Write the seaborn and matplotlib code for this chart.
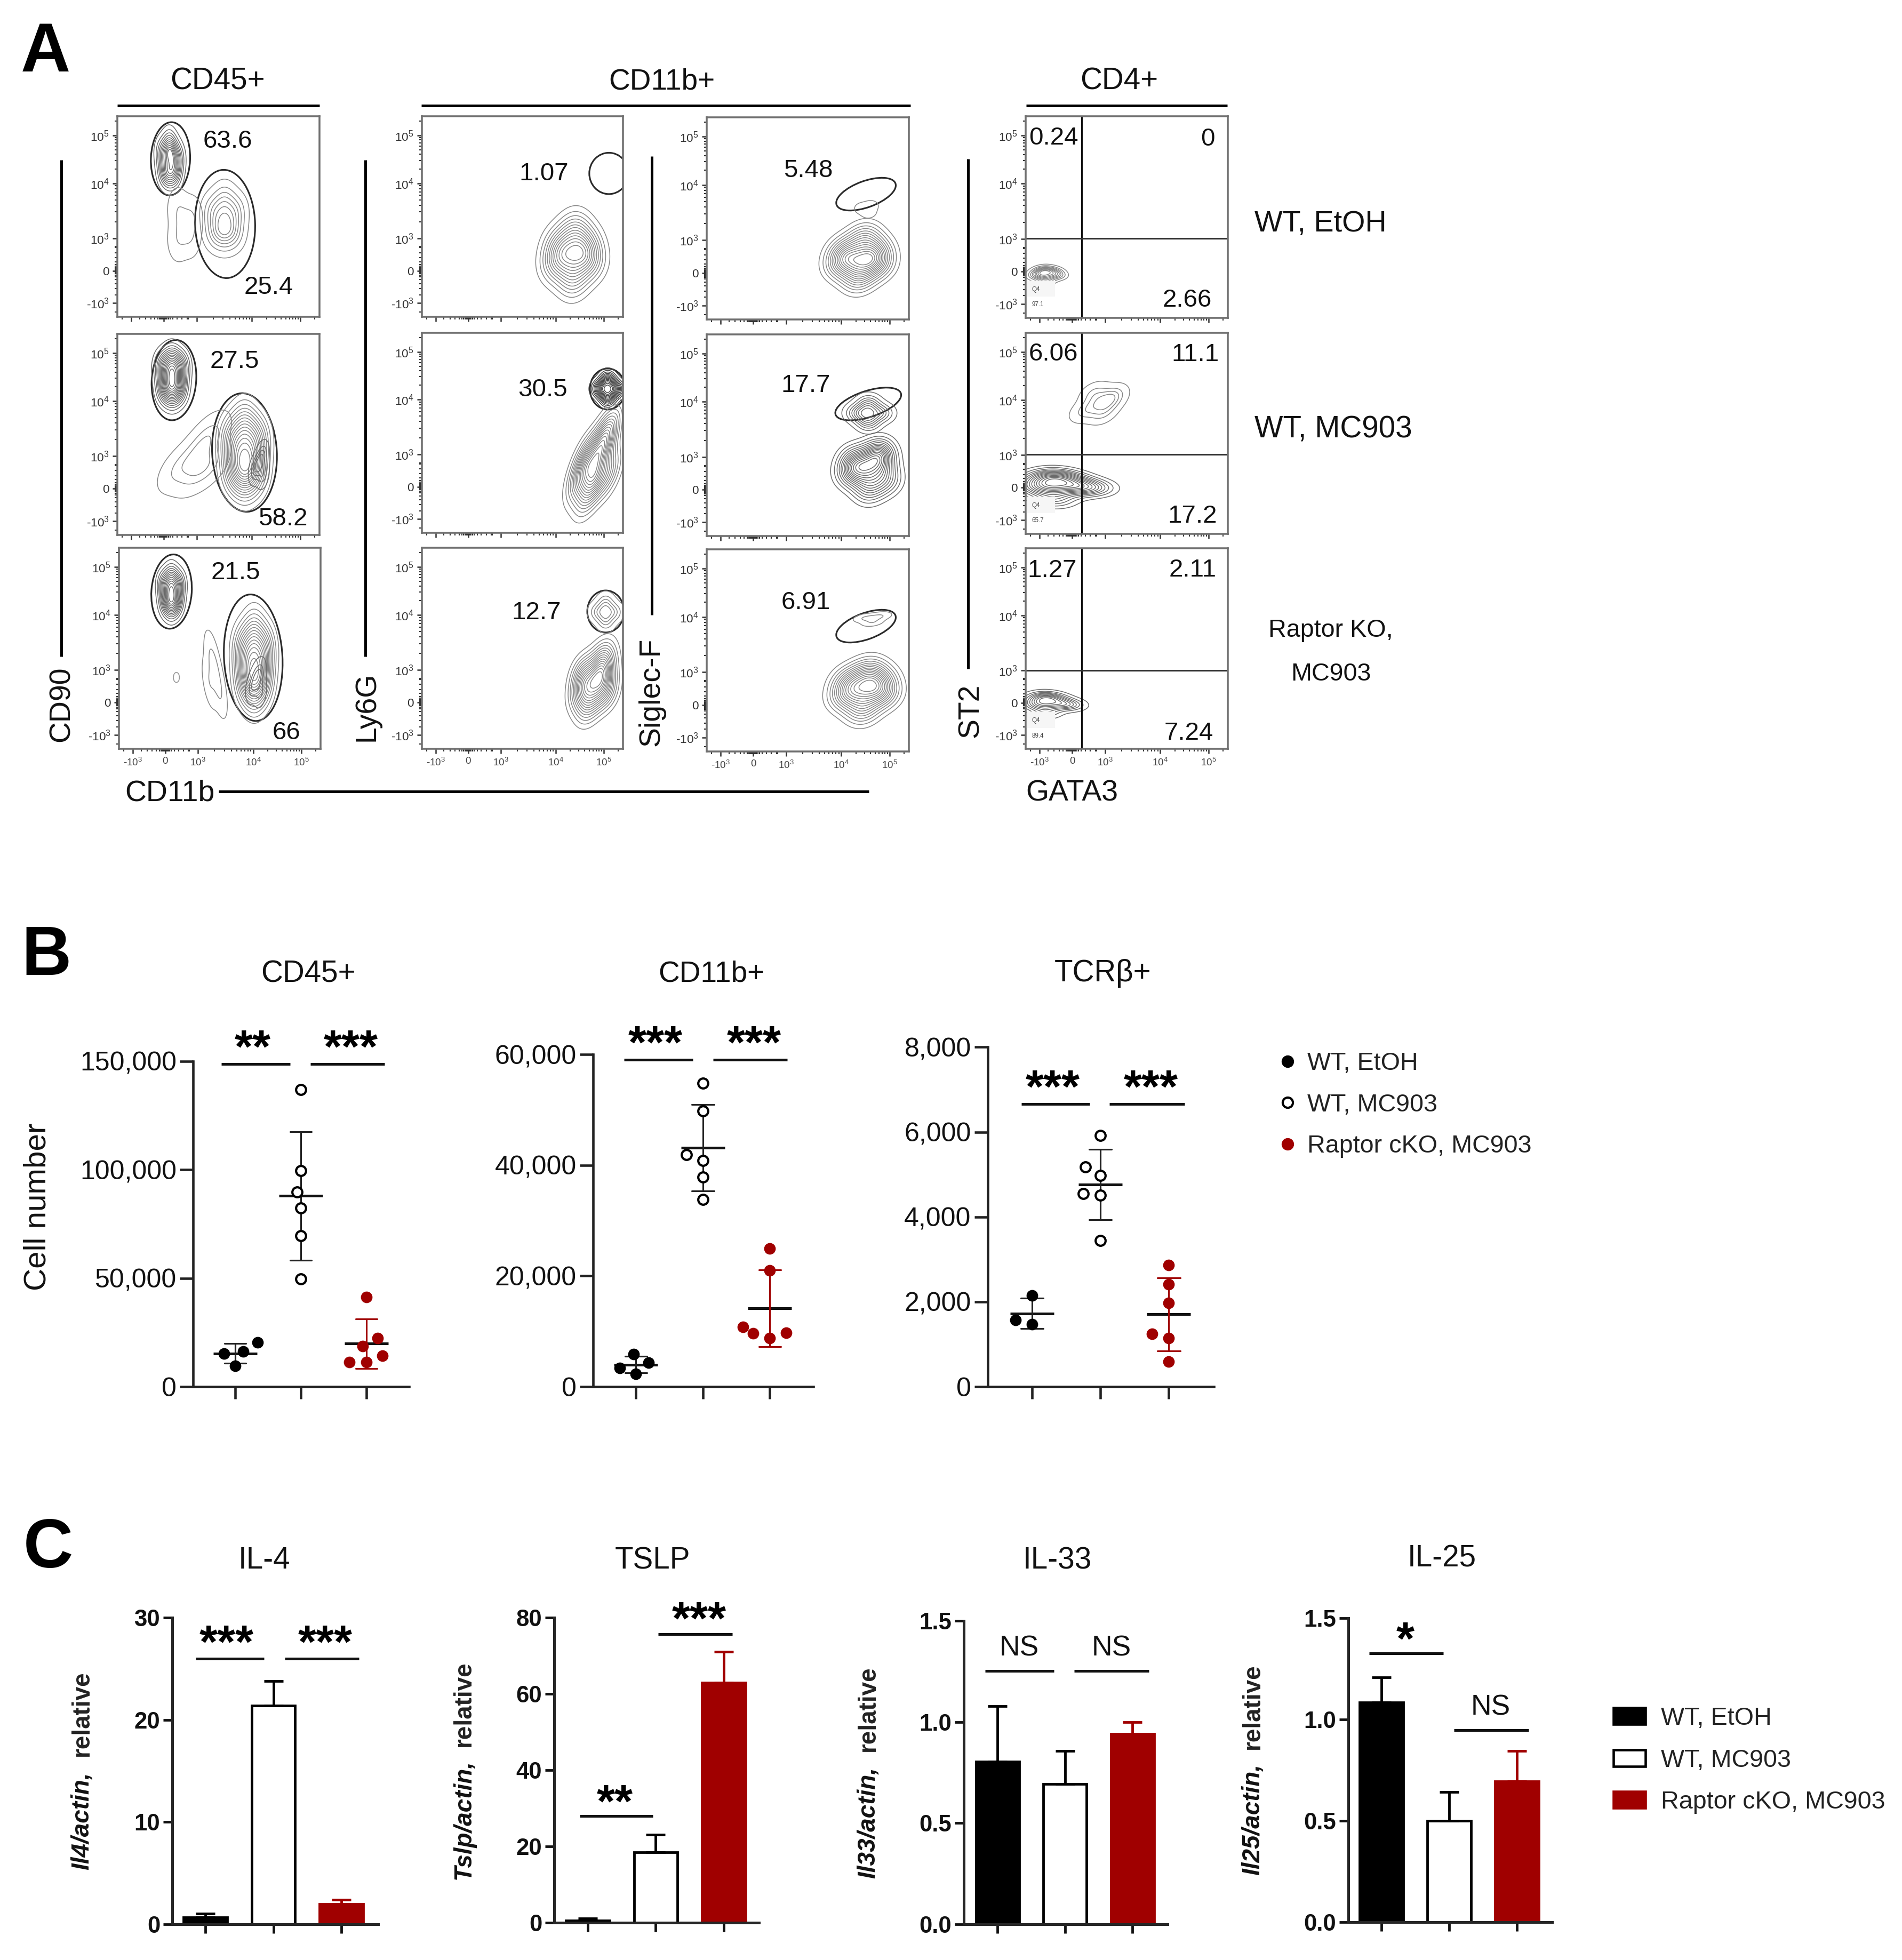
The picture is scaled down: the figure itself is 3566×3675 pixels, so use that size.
import numpy as np
import pandas as pd
import matplotlib
matplotlib.use("Agg")
import matplotlib.pyplot as plt
from matplotlib.lines import Line2D
from matplotlib.patches import Ellipse, Patch, Rectangle
from matplotlib.path import Path
from matplotlib.ticker import FixedLocator, NullFormatter, StrMethodFormatter
import seaborn as sns

W, H = 3566, 3675
DPI = 300

BLACK = "#000000"
RED = "#A00000"
GROUPS = ["WT, EtOH", "WT, MC903", "Raptor cKO, MC903"]
FILLS = [BLACK, "white", RED]
EDGES = [BLACK, BLACK, RED]

# panel B, cell counts read per mouse
cd45_etoh = [20400, 16200, 15200, 9500]
cd45_mc903 = [137000, 99500, 89800, 82400, 69600, 49600]
cd45_cko = [41400, 22300, 18600, 14150, 11200, 11200]
cd11b_etoh = [5840, 4380, 3330, 2330]
cd11b_mc903 = [54800, 49800, 41850, 40860, 37880, 33800]
cd11b_cko = [24900, 21000, 10800, 9750, 9630, 8760]
tcr_etoh = [2144, 1574, 1466]
tcr_mc903 = [5920, 5177, 4982, 4549, 4513, 3444]
tcr_cko = [2866, 2419, 1971, 1249, 1141, 592]

# panel C, bar heights and upper error bar ends
il4_mean = [0.7, 21.4, 2.0]
il4_top = [1.05, 23.8, 2.4]
tslp_mean = [0.5, 18.4, 62.9]
tslp_top = [1.1, 23.1, 71.0]
il33_mean = [0.805, 0.693, 0.94]
il33_top = [1.079, 0.856, 1.0]
il25_mean = [1.083, 0.499, 0.693]
il25_top = [1.207, 0.642, 0.843]

# panel A, anchor events of each flow population (percent of the plot box)
cd90_e_top_x = [26, 22, 30, 23, 29, 26, 26]
cd90_e_top_y = [81, 82, 80, 72, 72, 70, 87]
cd90_e_low_x = [53, 47, 59, 48, 58, 53, 53]
cd90_e_low_y = [49, 53, 53, 42, 42, 40, 59]
cd90_e_tail_x = [30, 36, 30, 37, 33]
cd90_e_tail_y = [38, 40, 54, 50, 46]
cd90_m_top_x = [27, 22, 32, 23, 31, 27, 27]
cd90_m_top_y = [80, 84, 84, 73, 73, 70, 88]
cd90_m_low_x = [63, 56, 70, 57, 69, 63, 63]
cd90_m_low_y = [41, 48, 48, 32, 32, 27, 56]
cd90_m_core_x = [70, 72, 68, 72]
cd90_m_core_y = [36, 40, 32, 30]
cd90_m_tail_x = [30, 38, 46, 46, 40]
cd90_m_tail_y = [33, 31, 35, 50, 42]
cd90_k_top_x = [26, 22, 30, 23, 29, 26, 26]
cd90_k_top_y = [79, 82, 82, 73, 73, 70, 86]
cd90_k_low_x = [67, 61, 73, 62, 72, 67, 67]
cd90_k_low_y = [43, 50, 50, 34, 34, 28, 58]
cd90_k_core_x = [68, 70, 66, 70]
cd90_k_core_y = [35, 38, 30, 28]
cd90_k_tail_x = [45, 48, 46, 50]
cd90_k_tail_y = [33, 38, 46, 28]
ly6g_e_x = [75, 66, 84, 75, 76, 68, 82]
ly6g_e_y = [30, 26, 27, 18, 44, 36, 36]
ly6g_m_top_x = [92.4, 88, 97, 92.4, 92.4]
ly6g_m_top_y = [72, 72, 72, 67, 77]
ly6g_m_low_x = [86, 78, 93, 83, 90, 93, 82]
ly6g_m_low_y = [30, 27, 30, 20, 44, 52, 38]
ly6g_k_top_x = [91.4, 87, 96, 91.4, 91.4]
ly6g_k_top_y = [68, 68, 68, 63, 73]
ly6g_k_low_x = [86, 79, 92, 83, 90, 80, 91]
ly6g_k_low_y = [33, 28, 28, 21, 46, 38, 38]
sigf_e_x = [76, 66, 85, 75, 78, 68, 84]
sigf_e_y = [29, 27, 27, 20, 41, 34, 34]
sigf_e_top_x = [77, 81, 80]
sigf_e_top_y = [55, 56, 53]
sigf_m_top_x = [80, 74, 87, 80, 80]
sigf_m_top_y = [61, 61, 61, 56, 66]
sigf_m_low_x = [79, 71, 89, 80, 85, 73, 86]
sigf_m_low_y = [33, 31, 28, 23, 42, 38, 38]
sigf_k_x = [78, 68, 88, 77, 80, 70, 86]
sigf_k_y = [30, 27, 28, 20, 40, 35, 35]
sigf_k_top_x = [82, 78, 86, 82]
sigf_k_top_y = [66, 66, 67, 64]
st2_e_x = [10, 5, 16, 7, 14, 10, 10]
st2_e_y = [21, 21, 21, 23, 23, 18.5, 24]
st2_m_top_x = [36, 29, 43, 34, 38, 42]
st2_m_top_y = [65, 61, 69, 70, 60, 66]
st2_m_low_x = [14, 5, 26, 14, 14, 8, 22, 34]
st2_m_low_y = [23, 23, 23, 17, 29, 27, 27, 23]
st2_k_x = [10, 4, 18, 10, 10, 6, 15, 23]
st2_k_y = [22, 22, 22, 18, 26, 25, 25, 22]

FLOW_TICKS = [6.8, 23, 39.2, 66.6, 90.5]
FLOW_LABELS = ["-$10^{3}$", "0", "$10^{3}$", "$10^{4}$", "$10^{5}$"]


def px_axes(fig, x0, y0, x1, y1):
    return fig.add_axes([x0 / W, 1 - y1 / H, (x1 - x0) / W, (y1 - y0) / H])


def ftext(fig, x, y, s, **kw):
    kw.setdefault("ha", "center")
    kw.setdefault("va", "center")
    # matplotlib centres on the line box, nudge onto the glyphs
    if kw.get("rotation") == 90:
        x += 3
    else:
        y += 5
    return fig.text(x / W, 1 - y / H, s, **kw)


def fline(fig, x0, y0, x1, y1, lw=1.2):
    fig.add_artist(Line2D([x0 / W, x1 / W], [1 - y0 / H, 1 - y1 / H], color="black", lw=lw,
                          solid_capstyle="butt"))


def flow_minor():
    dec = np.log10(np.arange(2, 10))
    minor = []
    for lo, hi in [(39.2, 66.6), (66.6, 90.5)]:
        minor.extend(lo + dec * (hi - lo))
    minor.extend(90.5 + dec[:5] * 24)
    minor.extend(23 + np.array([-12, -9, -6.5, -4.5, -3, -2.2, -1.5, -1, -.6, -.3, 0.01, .3, .6, 1, 1.5, 2.2, 3, 4.5, 6.5, 9, 12]))
    minor.extend([2.5, 14, 32, 34.5])
    return minor


def flow_axes(fig, box, pops, gates, numbers, xlabels=False):
    ax = px_axes(fig, *box)
    for x, y, levels, color in pops:
        sns.kdeplot(x=x, y=y, ax=ax, levels=levels, thresh=0.07, color=color, linewidths=0.36,
                    gridsize=150, bw_adjust=1.15)
    for cx, cy, w, h, ang in gates:
        ax.add_patch(Ellipse((cx, cy), w, h, angle=ang, fill=False, ec="#2a2a2a", lw=0.75))
    for nx, ny, s in numbers:
        ax.text(nx, ny - 1.3, s, fontsize=11.4, ha="center", va="center", color="#111111")
    ax.set_xlim(0, 100)
    ax.set_ylim(0, 100)
    ax.set_xlabel("")
    ax.set_ylabel("")
    ax.set_xticks(FLOW_TICKS)
    ax.set_yticks(FLOW_TICKS)
    ax.set_xticklabels(FLOW_LABELS if xlabels else [""] * 5, fontsize=4.5, color="#444444")
    ax.set_yticklabels(FLOW_LABELS, fontsize=5.4, color="#333333")
    ax.xaxis.set_minor_locator(FixedLocator(flow_minor()))
    ax.yaxis.set_minor_locator(FixedLocator(flow_minor()))
    ax.xaxis.set_minor_formatter(NullFormatter())
    ax.yaxis.set_minor_formatter(NullFormatter())
    ax.tick_params(which="major", length=2.2, width=0.6, pad=1.5, color="#333333")
    ax.tick_params(which="minor", length=1.3, width=0.5, color="#333333")
    for sp in ax.spines.values():
        sp.set_visible(True)
        sp.set_color("#707070")
        sp.set_linewidth(0.85)
    return ax


def quadrants(ax, vx, hy, q1, q2):
    ax.axvline(vx, color="#111111", lw=0.75)
    ax.axhline(hy, color="#333333", lw=0.75)
    ax.add_patch(Rectangle((1, 11), 13, 7, color="#f6f6f6", zorder=3))
    ax.text(3, 14, q1, fontsize=2.8, color="#444444", va="center", zorder=4)
    ax.text(3, 6.5, q2, fontsize=2.8, color="#444444", va="center", zorder=4)


def stars(ax, x, y, s):
    ax.annotate(s, (x, y), xytext=(0, -10), textcoords="offset points", ha="center", va="baseline",
                fontsize=21, fontweight="bold", color="black", annotation_clip=False)


def sig_line(ax, x0, x1, y):
    ax.plot([x0, x1], [y, y], color="#111111", lw=1.2, clip_on=False, solid_capstyle="butt")


def dots(fig, box, xlim, ymax, step, series):
    ax = px_axes(fig, *box)
    df = pd.DataFrame({
        "group": [g for g, vals in zip(GROUPS, series) for _ in vals],
        "value": [v for vals in series for v in vals],
    })
    sns.pointplot(data=df, x="group", y="value", hue="group", order=GROUPS, hue_order=GROUPS,
                  palette=dict(zip(GROUPS, ["#222222", "#222222", RED])), errorbar="sd", capsize=0.33,
                  marker="_", markersize=19.7, markeredgewidth=1.2, linestyle="none",
                  err_kws={"linewidth": 0.75}, legend=False, ax=ax)
    for ln in ax.lines:
        if ln.get_marker() == "_":
            ln.set_markeredgecolor("#111111")
    for g, fc, ec, rad in zip(GROUPS, FILLS, EDGES, [0.33, 0.35, 0.33]):
        n_before = len(ax.collections)
        sns.swarmplot(data=df[df["group"] == g], x="group", y="value", order=GROUPS, color=fc,
                      edgecolor=ec, linewidth=1.0, size=6.4, ax=ax, zorder=3)
        # spacing of a swarm follows size, the visible dot is drawn smaller
        for coll in ax.collections[n_before:]:
            coll.set_paths([Path.circle((0, 0), rad)])
    ax.set_xlim(*xlim)
    ax.set_ylim(0, ymax)
    ax.set_yticks(np.arange(0, ymax + 1, step))
    ax.yaxis.set_major_formatter(StrMethodFormatter("{x:,.0f}"))
    ax.set_xlabel("")
    ax.set_ylabel("")
    ax.set_xticks([0, 1, 2])
    ax.set_xticklabels([])
    ax.tick_params(axis="y", length=6, width=1.1, labelsize=12, pad=1.5, color="#222222")
    ax.tick_params(axis="x", length=5.5, width=1.1, color="#222222")
    sns.despine(ax=ax)
    for s in ["left", "bottom"]:
        ax.spines[s].set_linewidth(1.1)
        ax.spines[s].set_color("#222222")
    return ax


def bars(fig, box, xlim, ymax, yticks, fmt, means, tops):
    ax = px_axes(fig, *box)
    sns.barplot(x=GROUPS, y=means, hue=GROUPS, order=GROUPS, hue_order=GROUPS,
                palette=dict(zip(GROUPS, FILLS)), saturation=1, width=0.64, errorbar=None,
                legend=False, ax=ax)
    for cont, ec in zip(ax.containers, EDGES):
        for p in cont:
            p.set_edgecolor(ec)
            p.set_linewidth(1.15)
    up = [t - m for m, t in zip(means, tops)]
    for i, ec in enumerate(EDGES):
        ax.errorbar([i], [means[i]], yerr=[[0], [up[i]]], color=ec, capsize=4.4, capthick=1.15,
                    elinewidth=1.15, ls="none", zorder=1)
    ax.set_xlim(*xlim)
    ax.set_ylim(0, ymax)
    ax.set_yticks(yticks)
    ax.yaxis.set_major_formatter(StrMethodFormatter(fmt))
    ax.set_xticks([0, 1, 2])
    ax.set_xticklabels([])
    ax.set_xlabel("")
    ax.set_ylabel("")
    ax.tick_params(axis="y", length=4, width=1.15, pad=1.5)
    ax.tick_params(axis="x", length=4, width=1.15)
    for lab in ax.get_yticklabels():
        lab.set_fontsize(10.5)
        lab.set_fontweight("bold")
    sns.despine(ax=ax)
    for s in ["left", "bottom"]:
        ax.spines[s].set_linewidth(1.2)
    return ax


def bar_ylabel(fig, x, y_it, y_rel, name):
    ftext(fig, x, y_it, name, rotation=90, fontsize=11, fontweight="bold", fontstyle="italic", color="#111111")
    ftext(fig, x, y_rel, "relative", rotation=90, fontsize=11, fontweight="bold", color="#222222")


def main():
    sns.set_theme(style="ticks")
    plt.rcParams["font.family"] = ["Liberation Sans", "DejaVu Sans"]
    plt.rcParams["mathtext.default"] = "regular"
    plt.rcParams["text.color"] = "#111111"
    plt.rcParams["ytick.color"] = "#111111"
    plt.rcParams["xtick.color"] = "#111111"
    fig = plt.figure(figsize=(W / DPI, H / DPI), dpi=DPI, facecolor="white")

    # ---- panel A
    ftext(fig, 85, 96, "A", fontsize=31, fontweight="bold", color="black")
    ftext(fig, 408, 148, "CD45+", fontsize=13.6)
    ftext(fig, 1241, 148, "CD11b+", fontsize=13.2)
    ftext(fig, 2098, 148, "CD4+", fontsize=13.6)
    fline(fig, 220, 198, 599, 198)
    fline(fig, 790, 198, 1707, 198)
    fline(fig, 1924, 198, 2301, 198)
    G = "#858585"
    D = "#6a6a6a"

    flow_axes(fig, (220, 218, 599, 594),
              [(cd90_e_top_x, cd90_e_top_y, 12, D), (cd90_e_low_x, cd90_e_low_y, 8, G), (cd90_e_tail_x, cd90_e_tail_y, 3, G)],
              [(26.3, 78.8, 19.4, 36.5, -2), (53.3, 46.3, 29.7, 54, 2)],
              [(54.6, 88.8, "63.6"), (75, 16, "25.4")])
    flow_axes(fig, (220, 626, 599, 1003),
              [(cd90_m_top_x, cd90_m_top_y, 16, D), (cd90_m_low_x, cd90_m_low_y, 16, G), (cd90_m_core_x, cd90_m_core_y, 5, D),
               (cd90_m_tail_x, cd90_m_tail_y, 4, G)],
              [(28, 77, 22, 40, -4), (62.9, 41, 32, 59, 3)],
              [(58, 87.6, "27.5"), (82, 9.3, "58.2")])
    flow_axes(fig, (223, 1027, 601, 1404),
              [(cd90_k_top_x, cd90_k_top_y, 14, D), (cd90_k_low_x, cd90_k_low_y, 16, G), (cd90_k_core_x, cd90_k_core_y, 4, D),
               (cd90_k_tail_x, cd90_k_tail_y, 3, G)],
              [(26.1, 78.2, 20, 37, -4), (66.6, 45.3, 29, 63, 3)],
              [(58, 88.8, "21.5"), (83, 9.3, "66")], xlabels=True).add_patch(
        Ellipse((28.5, 35.5), 3, 5, fill=False, ec="#999999", lw=0.4))

    flow_axes(fig, (791, 218, 1168, 594), [(ly6g_e_x, ly6g_e_y, 14, G)],
              [(93, 71.5, 19.5, 20.6, 0)], [(60.6, 72.7, "1.07")])
    flow_axes(fig, (791, 624, 1168, 999),
              [(ly6g_m_top_x, ly6g_m_top_y, 14, "#444444"), (ly6g_m_low_x, ly6g_m_low_y, 16, G)],
              [(92.4, 71.9, 17.7, 20.5, 0)], [(60, 72.7, "30.5")])
    flow_axes(fig, (791, 1027, 1168, 1404),
              [(ly6g_k_top_x, ly6g_k_top_y, 6, G), (ly6g_k_low_x, ly6g_k_low_y, 16, G)],
              [(91.4, 68.3, 18.3, 20.9, 0)], [(57, 69, "12.7")], xlabels=True)

    flow_axes(fig, (1325, 220, 1704, 599),
              [(sigf_e_x, sigf_e_y, 16, G), (sigf_e_top_x, sigf_e_top_y, 2, G)],
              [(78.8, 62, 31, 13, 20)], [(50.3, 75, "5.48")])
    flow_axes(fig, (1325, 627, 1704, 1005),
              [(sigf_m_top_x, sigf_m_top_y, 9, D), (sigf_m_low_x, sigf_m_low_y, 16, D)],
              [(79.9, 65.5, 34, 13, 18)], [(49, 76, "17.7")])
    flow_axes(fig, (1325, 1030, 1704, 1409),
              [(sigf_k_x, sigf_k_y, 16, G), (sigf_k_top_x, sigf_k_top_y, 3, G)],
              [(78.8, 62, 31, 13, 20)], [(49, 75, "6.91")], xlabels=True)

    ax = flow_axes(fig, (1923, 218, 2302, 596), [(st2_e_x, st2_e_y, 10, G)], [],
                   [(13.7, 90.5, "0.24"), (90, 90, "0"), (80, 10, "2.66")])
    quadrants(ax, 27.7, 39.5, "Q4", "97.1")
    ax = flow_axes(fig, (1923, 624, 2302, 1001),
                   [(st2_m_top_x, st2_m_top_y, 5, G), (st2_m_low_x, st2_m_low_y, 14, D)], [],
                   [(13.7, 90.7, "6.06"), (84, 90.5, "11.1"), (82.6, 10, "17.2")])
    quadrants(ax, 27.7, 39.5, "Q4", "65.7")
    ax = flow_axes(fig, (1923, 1028, 2302, 1404), [(st2_k_x, st2_k_y, 10, D)], [],
                   [(13, 90, "1.27"), (82.6, 90.5, "2.11"), (80.7, 9, "7.24")], xlabels=True)
    quadrants(ax, 27.7, 39.2, "Q4", "89.4")

    fline(fig, 115, 300, 115, 1231)
    fline(fig, 685, 300, 685, 1231)
    fline(fig, 1222, 293, 1222, 1153)
    fline(fig, 1815, 298, 1815, 1254)
    ftext(fig, 113, 1320, "CD90", rotation=90, fontsize=13.3)
    ftext(fig, 685, 1325, "Ly6G", rotation=90, fontsize=13.3)
    ftext(fig, 1219, 1297, "Siglec-F", rotation=90, fontsize=13.3)
    ftext(fig, 1817, 1332, "ST2", rotation=90, fontsize=13.3)
    ftext(fig, 234, 1482, "CD11b", ha="left", fontsize=13.3)
    fline(fig, 410, 1484, 1629, 1484)
    ftext(fig, 1923, 1482, "GATA3", ha="left", fontsize=13.3)
    ftext(fig, 2352, 415, "WT, EtOH", ha="left", fontsize=13.4)
    ftext(fig, 2352, 800, "WT, MC903", ha="left", fontsize=13.6)
    ftext(fig, 2495, 1177, "Raptor KO,", fontsize=11.2)
    ftext(fig, 2495, 1259, "MC903", fontsize=11.2)

    # ---- panel B
    ftext(fig, 87, 1790, "B", fontsize=31, fontweight="bold", color="black")
    ftext(fig, 578, 1821, "CD45+", fontsize=13.6)
    ftext(fig, 1334, 1821, "CD11b+", fontsize=13.2)
    ftext(fig, 2068, 1820, "TCR\u03b2+", fontsize=13.6)
    ftext(fig, 68, 2263, "Cell number", rotation=90, fontsize=14)

    ax = dots(fig, (362, 1990, 767, 2600), (-0.642, 2.65), 150000, 50000, [cd45_etoh, cd45_mc903, cd45_cko])
    sig_line(ax, -0.21, 0.84, 148800)
    sig_line(ax, 1.15, 2.28, 148800)
    stars(ax, 0.27, 159800, "**")
    stars(ax, 1.76, 159800, "***")

    ax = dots(fig, (1112, 1977, 1525, 2600), (-0.64, 2.65), 60000, 20000, [cd11b_etoh, cd11b_mc903, cd11b_cko])
    sig_line(ax, -0.175, 0.85, 59000)
    sig_line(ax, 1.155, 2.26, 59000)
    stars(ax, 0.29, 63400, "***")
    stars(ax, 1.76, 63400, "***")

    ax = dots(fig, (1852, 1963.5, 2276, 2600), (-0.65, 2.66), 8000, 2000, [tcr_etoh, tcr_mc903, tcr_cko])
    sig_line(ax, -0.16, 0.84, 6660)
    sig_line(ax, 1.13, 2.23, 6660)
    stars(ax, 0.30, 7230, "***")
    stars(ax, 1.74, 7230, "***")

    dot_handles = [Line2D([], [], marker="o", ls="none", mfc=fc, mec=ec, mew=1.0, ms=4.6)
                   for fc, ec in zip(FILLS, EDGES)]
    fig.legend(dot_handles, GROUPS, loc="upper left", bbox_to_anchor=(2391 / W, 1 - 1972 / H), frameon=False,
               fontsize=11.2, labelcolor="#222222", handlelength=1, handletextpad=0.28, labelspacing=0.72,
               borderpad=0, borderaxespad=0)

    # ---- panel C
    ftext(fig, 90, 2900, "C", fontsize=31, fontweight="bold", color="black")
    ftext(fig, 495, 2921, "IL-4", fontsize=13.6)
    ftext(fig, 1224, 2921, "TSLP", fontsize=13.6)
    ftext(fig, 1982, 2921, "IL-33", fontsize=13.6)
    ftext(fig, 2703, 2918, "IL-25", fontsize=13.6)
    bar_ylabel(fig, 151, 3414, 3213, "Il4/actin,")
    bar_ylabel(fig, 867, 3412, 3195, "Tslp/actin,")
    bar_ylabel(fig, 1625, 3418, 3204, "Il33/actin,")
    bar_ylabel(fig, 2346, 3412, 3200, "Il25/actin,")

    ax = bars(fig, (323, 3033, 709, 3608), (-0.486, 2.54), 30, [0, 10, 20, 30], "{x:.0f}", il4_mean, il4_top)
    sig_line(ax, -0.14, 0.86, 26)
    sig_line(ax, 1.17, 2.26, 26)
    stars(ax, 0.31, 28.3, "***")
    stars(ax, 1.76, 28.3, "***")

    ax = bars(fig, (1039, 3033, 1423, 3605), (-0.494, 2.52), 80, [0, 20, 40, 60, 80], "{x:.0f}", tslp_mean, tslp_top)
    sig_line(ax, -0.12, 0.96, 28)
    stars(ax, 0.40, 33.6, "**")
    sig_line(ax, 1.04, 2.13, 75.7)
    stars(ax, 1.64, 81.5, "***")

    ax = bars(fig, (1807, 3039, 2189, 3608), (-0.498, 2.52), 1.5, [0, 0.5, 1.0, 1.5], "{x:.1f}", il33_mean, il33_top)
    sig_line(ax, -0.18, 0.84, 1.252)
    sig_line(ax, 1.14, 2.24, 1.252)
    ax.text(0.32, 1.363, "NS", fontsize=12.8, ha="center", va="center")
    ax.text(1.69, 1.363, "NS", fontsize=12.8, ha="center", va="center")

    ax = bars(fig, (2528, 3034, 2910, 3603.5), (-0.488, 2.52), 1.5, [0, 0.5, 1.0, 1.5], "{x:.1f}", il25_mean, il25_top)
    sig_line(ax, -0.18, 0.91, 1.326)
    stars(ax, 0.35, 1.431, "*")
    sig_line(ax, 1.07, 2.17, 0.947)
    ax.text(1.61, 1.058, "NS", fontsize=12.8, ha="center", va="center")

    bar_handles = [Patch(facecolor=fc, edgecolor=ec, linewidth=1.1) for fc, ec in zip(FILLS, EDGES)]
    fig.legend(bar_handles, GROUPS, loc="upper left", bbox_to_anchor=(3025 / W, 1 - 3200 / H), frameon=False,
               fontsize=11.2, labelcolor="#222222", handlelength=1.28, handleheight=0.65, handletextpad=0.62,
               labelspacing=0.74, borderpad=0, borderaxespad=0)

    fig.savefig("out.png", dpi=DPI, facecolor="white")


if __name__ == "__main__":
    main()
